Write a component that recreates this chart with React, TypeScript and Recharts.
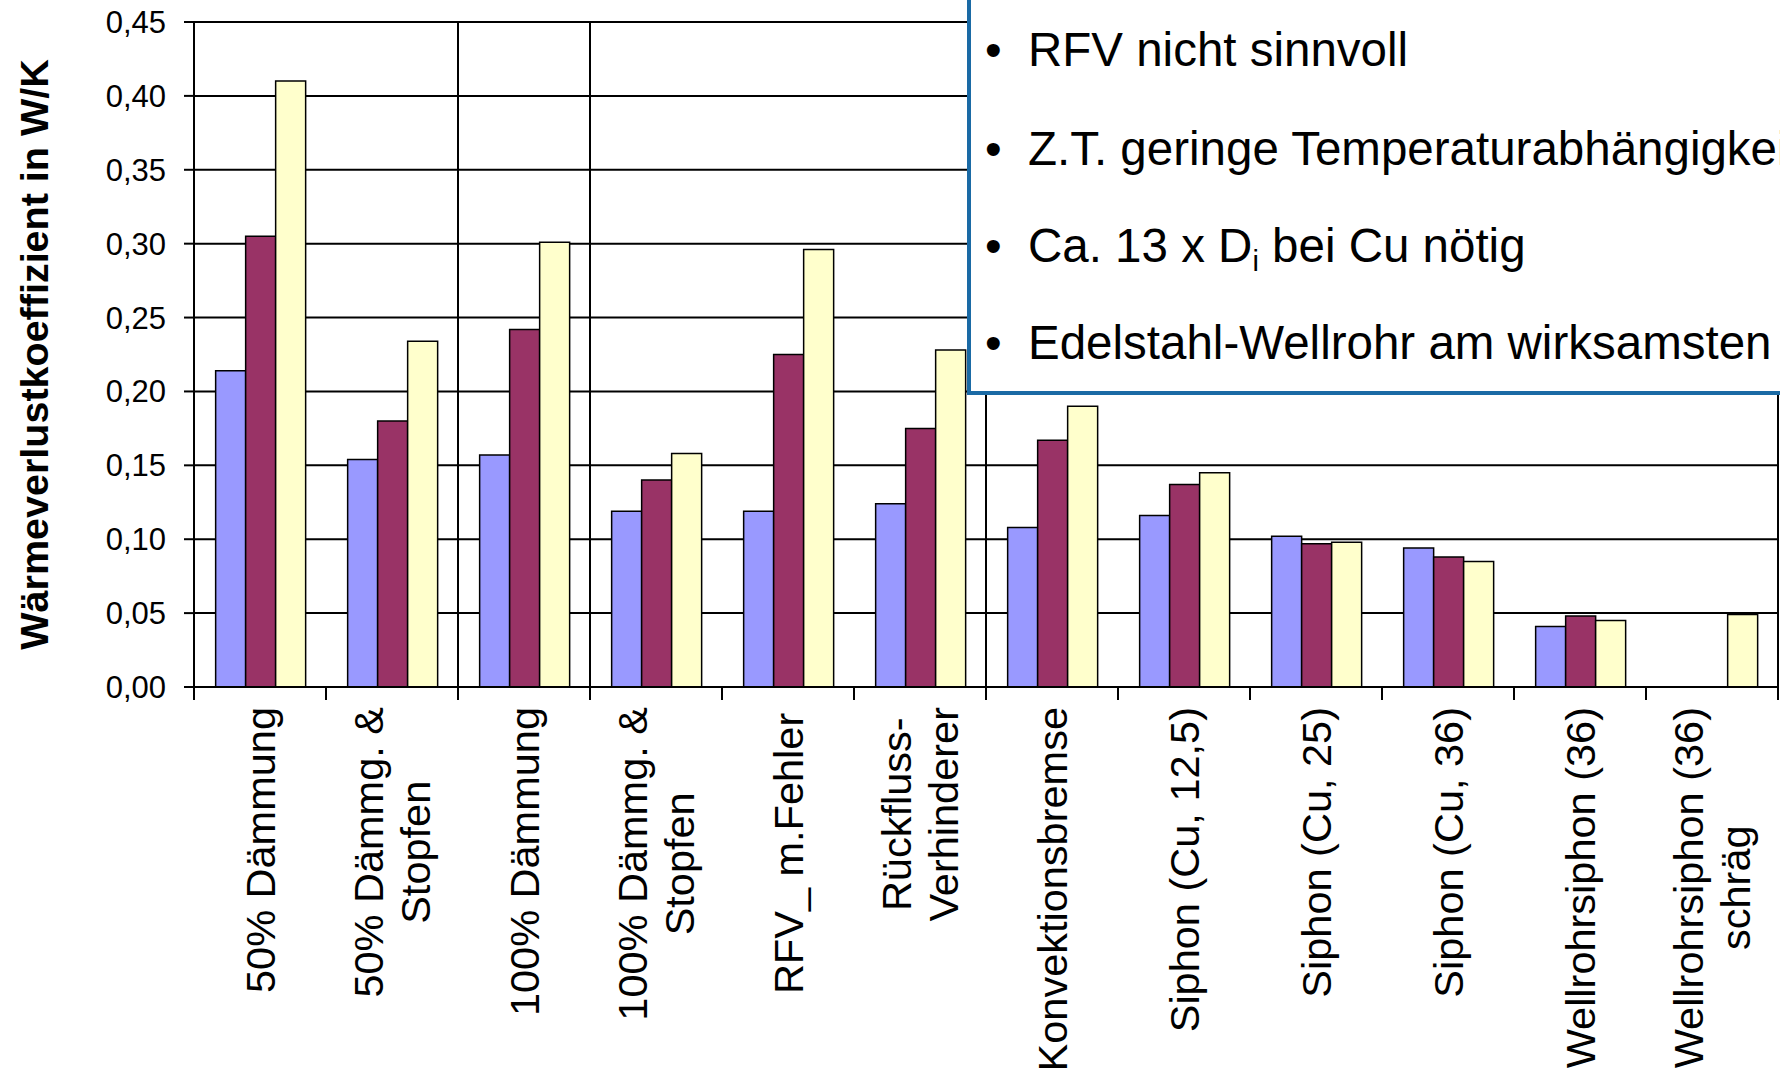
import { BarChart, Bar, XAxis, YAxis, CartesianGrid, Label } from "recharts";

const CATEGORIES = [
  "50% Dämmung",
  "50% Dämmg. &\nStopfen",
  "100% Dämmung",
  "100% Dämmg. &\nStopfen",
  "RFV_  m.Fehler",
  "Rückfluss-\nVerhinderer",
  "Konvektionsbremse",
  "Siphon (Cu, 12,5)",
  "Siphon (Cu, 25)",
  "Siphon (Cu, 36)",
  "Wellrohrsiphon (36)",
  "Wellrohrsiphon (36)\nschräg",
];

const SERIES_A = [0.214, 0.154, 0.157, 0.119, 0.119, 0.124, 0.108, 0.116, 0.102, 0.094, 0.041, null];
const SERIES_B = [0.305, 0.180, 0.242, 0.140, 0.225, 0.175, 0.167, 0.137, 0.097, 0.088, 0.048, null];
const SERIES_C = [0.410, 0.234, 0.301, 0.158, 0.296, 0.228, 0.190, 0.145, 0.098, 0.085, 0.045, 0.049];

const Y_TICKS = [0, 0.05, 0.1, 0.15, 0.2, 0.25, 0.3, 0.35, 0.4, 0.45];
const Y_TITLE = "Wärmeverlustkoeffizient in W/K";

const NOTES = [
  "RFV nicht sinnvoll",
  "Z.T. geringe Temperaturabhängigkeit",
  "Ca. 13 x D|i| bei Cu nötig",
  "Edelstahl-Wellrohr am wirksamsten",
];

// columns where the original sheet draws a vertical divider (category boundaries)
const DIVIDERS = [2, 3, 6, 12];

const data = CATEGORIES.map((name, i) => ({
  name,
  a: SERIES_A[i],
  b: SERIES_B[i],
  c: SERIES_C[i],
}));

const W = 1780;
const H = 1069;
const Y_AXIS_W = 194;
const X_AXIS_H = 382;
const MARGIN = { top: 22, right: 2, left: 0, bottom: 0 };
const PLOT_W = W - Y_AXIS_W - MARGIN.right;
const FONT = '"Liberation Sans", Arial, sans-serif';
const X_FONT = 41.5;
const LINE_H = 47;

let ctx: CanvasRenderingContext2D | null = null;
function textWidth(t: string) {
  if (!ctx) ctx = document.createElement("canvas").getContext("2d");
  if (!ctx) return t.length * X_FONT * 0.55;
  ctx.font = `${X_FONT}px ${FONT}`;
  return ctx.measureText(t).width;
}

function CategoryTick(props: any) {
  const { x, y, payload, index } = props;
  const band = PLOT_W / CATEGORIES.length;
  const lines = String(payload.value).split("\n");
  const maxW = Math.max(...lines.map(textWidth));
  const cy = y + 20 + maxW / 2;
  const last = index === CATEGORIES.length - 1;
  return (
    <g>
      <line x1={x - band / 2} x2={x - band / 2} y1={y} y2={y + 13} stroke="#000" strokeWidth={2} />
      {last && <line x1={x + band / 2} x2={x + band / 2} y1={y} y2={y + 13} stroke="#000" strokeWidth={2} />}
      <g transform={`translate(${x},${cy}) rotate(-90)`}>
        {lines.map((l, i) => (
          <text
            key={i}
            x={0}
            y={(i - (lines.length - 1) / 2) * LINE_H}
            textAnchor="middle"
            dominantBaseline="central"
            fontSize={X_FONT}
            fontFamily={FONT}
            fill="#000"
          >
            {l}
          </text>
        ))}
      </g>
    </g>
  );
}

function NoteBox() {
  const baselines = [66, 165, 262, 359];
  return (
    <svg width={W} height={H} style={{ position: "absolute", left: 0, top: 0, pointerEvents: "none" }}>
      <rect x={969} y={-10} width={900} height={403} fill="#fff" stroke="#1a6aa5" strokeWidth={4} />
      {NOTES.map((n, i) => {
        const parts = n.split("|");
        return (
          <g key={i} fontFamily={FONT} fontSize={47.5} fill="#000">
            <text x={985} y={baselines[i]}>•</text>
            <text x={1028} y={baselines[i]}>
              {parts.length === 1 ? (
                n
              ) : (
                <>
                  {parts[0]}
                  <tspan fontSize={29} dy={9}>{parts[1]}</tspan>
                  <tspan dy={-9}>{parts[2]}</tspan>
                </>
              )}
            </text>
          </g>
        );
      })}
    </svg>
  );
}

export default function App() {
  return (
    <div style={{ position: "absolute", left: 0, top: 0, width: W, height: H, overflow: "hidden", background: "#fff", fontFamily: FONT }}>
      <BarChart width={W} height={H} data={data} margin={MARGIN} barCategoryGap="16.4%" barGap={0}>
        <CartesianGrid
          stroke="#000"
          strokeWidth={2}
          horizontal
          vertical
          verticalCoordinatesGenerator={({ offset }: any) =>
            DIVIDERS.map((k) => offset.left + (offset.width * k) / CATEGORIES.length)
          }
        />
        <XAxis
          dataKey="name"
          interval={0}
          height={X_AXIS_H}
          tickSize={0}
          tickMargin={0}
          tickLine={false}
          axisLine={{ stroke: "#000", strokeWidth: 2 }}
          tick={<CategoryTick />}
        />
        <YAxis
          width={Y_AXIS_W}
          domain={[0, 0.45]}
          ticks={Y_TICKS}
          interval={0}
          tickSize={10}
          tickMargin={18}
          tickLine={{ stroke: "#000", strokeWidth: 2 }}
          axisLine={{ stroke: "#000", strokeWidth: 2 }}
          tick={{ fontSize: 31, fill: "#000", fontFamily: FONT }}
          tickFormatter={(v: number) => v.toFixed(2).replace(".", ",")}
        >
          <Label
            value={Y_TITLE}
            angle={-90}
            position="center"
            dx={-63}
            style={{ fontSize: 39.5, fontWeight: "bold", fill: "#000", fontFamily: FONT }}
          />
        </YAxis>
        <Bar dataKey="a" fill="#9999ff" stroke="#000" strokeWidth={1.5} isAnimationActive={false} />
        <Bar dataKey="b" fill="#993366" stroke="#000" strokeWidth={1.5} isAnimationActive={false} />
        <Bar dataKey="c" fill="#ffffcc" stroke="#000" strokeWidth={1.5} isAnimationActive={false} />
      </BarChart>
      <NoteBox />
    </div>
  );
}
